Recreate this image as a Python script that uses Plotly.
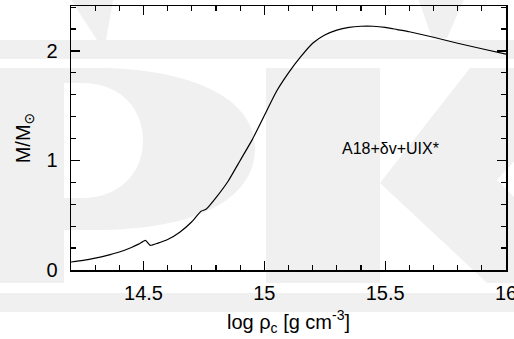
import plotly.graph_objects as go

# ---- data ----
log_rho_c = [14.20, 14.25, 14.30, 14.35, 14.40, 14.45, 14.48, 14.508, 14.528, 14.56,
             14.60, 14.65, 14.70, 14.738, 14.760, 14.80, 14.85, 14.90, 14.95, 15.00,
             15.05, 15.10, 15.15, 15.20, 15.25, 15.30, 15.35, 15.40, 15.45, 15.50,
             15.55, 15.60, 15.70, 15.80, 15.90, 16.00]
mass = [0.073, 0.088, 0.108, 0.133, 0.164, 0.206, 0.236, 0.270, 0.225, 0.245,
        0.278, 0.345, 0.440, 0.536, 0.556, 0.660, 0.810, 1.000, 1.190, 1.410,
        1.630, 1.800, 1.945, 2.070, 2.145, 2.190, 2.215, 2.225, 2.225, 2.215,
        2.195, 2.175, 2.125, 2.070, 2.020, 1.970]
label_text = "A18+δv+UIX*"
label_pos = (15.524, 1.105)
x_tickvals = [14.5, 15, 15.5, 16]
x_ticktext = ["14.5", "15", "15.5", "16"]
y_tickvals = [0, 1, 2]
y_ticktext = ["0", "1", "2"]

# ---- layout geometry ----
W, H = 514, 339
ML, MR, MT, MB = 71, 8, 6, 69
PW, PH = W - ML - MR, H - MT - MB
FONT = "Liberation Sans, Arial, DejaVu Sans, sans-serif"
WM = "#f0f0f0"


def px(x):
    return (x - ML) / PW


def py(y):
    return (H - MB - y) / PH


def pt(x, y):
    return f"{px(x):.5f},{py(y):.5f}"


def poly(points):
    return "M " + " L ".join(pt(x, y) for x, y in points) + " Z"


shapes = []


def add_path(path, evenodd=False):
    d = dict(type="path", path=path, xref="paper", yref="paper",
             fillcolor=WM, line=dict(width=0), layer="below")
    if evenodd:
        d["fillrule"] = "evenodd"
    shapes.append(d)


# horizontal bands
add_path(poly([(-5, 40), (520, 40), (520, 59), (-5, 59)]))
add_path(poly([(-5, 293), (520, 293), (520, 312), (-5, 312)]))
# accent strokes at top
add_path(poly([(68, -5), (114, -5), (106, 40), (97, 40)]))
add_path(poly([(417, -5), (466, -5), (447, 38), (432, 38)]))
# P letter: stem + bowl with hole
add_path(poly([(-5, 68), (64, 68), (64, 283), (-5, 283)]))
bowl = ("M " + pt(64, 68) + " L " + pt(95, 68) +
        " C " + pt(195, 68) + " " + pt(255, 100) + " " + pt(255, 148) +
        " C " + pt(255, 200) + " " + pt(195, 230) + " " + pt(95, 230) +
        " L " + pt(64, 230) + " Z " +
        "M " + pt(64, 83) + " L " + pt(82, 83) +
        " C " + pt(122, 83) + " " + pt(143, 110) + " " + pt(143, 140) +
        " C " + pt(143, 175) + " " + pt(118, 198) + " " + pt(82, 198) +
        " L " + pt(64, 198) + " Z")
add_path(bowl, evenodd=True)
# K letter: stem + legs
add_path(poly([(266, 68), (380, 68), (380, 283), (266, 283)]))
add_path(poly([(380, 183), (470, 68), (600, 68), (497, 180), (600, 283), (487, 283)]))

fig = go.Figure()
fig.add_trace(go.Scatter(
    x=log_rho_c, y=mass, mode="lines",
    line=dict(color="black", width=1.2, shape="spline", smoothing=0.5),
    showlegend=False, hoverinfo="skip", cliponaxis=False))

fig.add_annotation(x=label_pos[0], y=label_pos[1], text=label_text,
                   showarrow=False, font=dict(family=FONT, size=16, color="black"),
                   xanchor="center", yanchor="middle")

axis_common = dict(showgrid=False, zeroline=False, showline=True, linecolor="black",
                   linewidth=1.5, mirror="allticks", ticks="inside", ticklen=9,
                   tickwidth=1.2, tickcolor="black", automargin=False,
                   ticklabeloverflow="allow",
                   tickfont=dict(family=FONT, size=20, color="black"))

fig.update_xaxes(range=[14.2, 16], tickvals=x_tickvals, ticktext=x_ticktext,
                 minor=dict(dtick=0.1, tick0=14.2, ticks="inside", ticklen=5,
                            tickwidth=1.2, tickcolor="black", showgrid=False),
                 title=dict(text="log ρ<sub>c</sub> [g cm<sup>-3</sup>]",
                            font=dict(family=FONT, size=20, color="black"), standoff=12),
                 ticklabelstandoff=4,
                 **axis_common)
fig.update_yaxes(range=[0, 2.41], tickvals=y_tickvals, ticktext=y_ticktext,
                 minor=dict(dtick=0.2, tick0=0, ticks="inside", ticklen=5,
                            tickwidth=1.2, tickcolor="black", showgrid=False),
                 title=dict(text="M/M<sub>⊙</sub>",
                            font=dict(family=FONT, size=20, color="black"), standoff=10),
                 ticklabelstandoff=8,
                 **axis_common)

fig.update_layout(width=W, height=H, margin=dict(l=ML, r=MR, t=MT, b=MB),
                  paper_bgcolor="white", plot_bgcolor="rgba(0,0,0,0)",
                  shapes=shapes, font=dict(family=FONT))

fig.write_html("out.html", config={"displayModeBar": False, "staticPlot": True},
               post_script="document.body.style.margin='0';")
